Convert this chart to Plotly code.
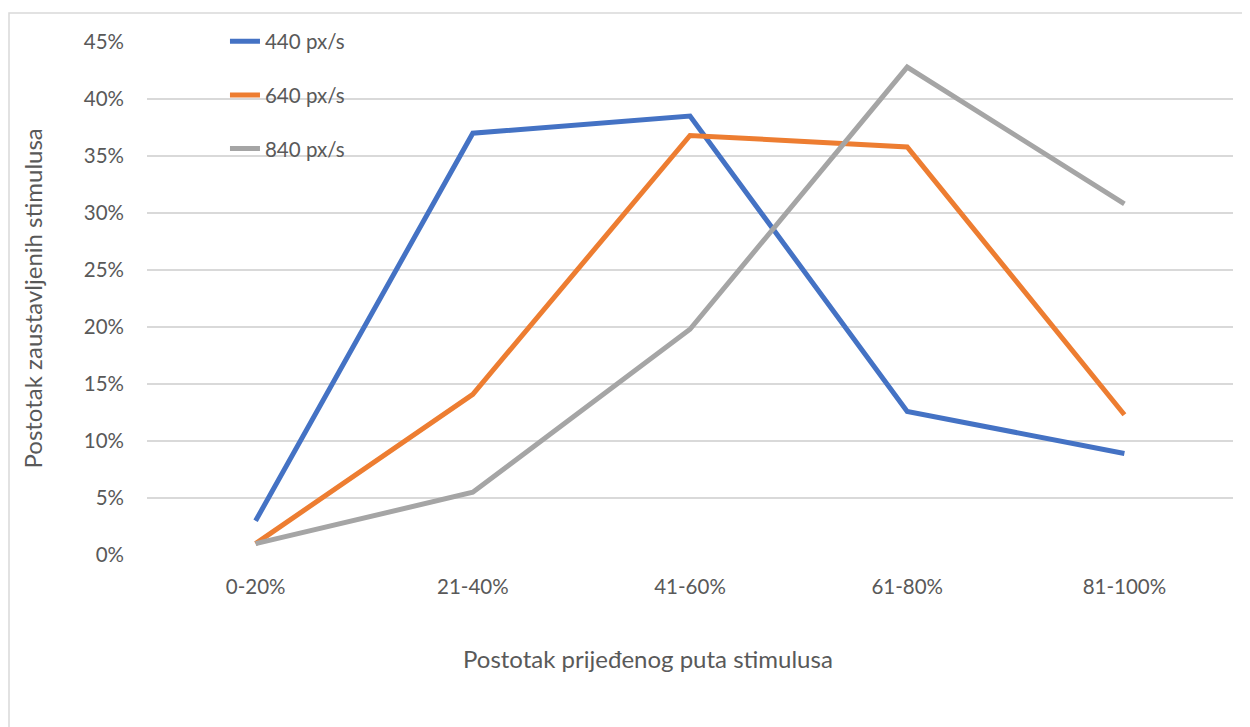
import plotly.graph_objects as go

categories = ["0-20%", "21-40%", "41-60%", "61-80%", "81-100%"]
speed_440 = [0.030, 0.370, 0.385, 0.126, 0.089]
speed_640 = [0.010, 0.141, 0.368, 0.358, 0.123]
speed_840 = [0.010, 0.055, 0.198, 0.428, 0.308]
series_names = ["440 px/s", "640 px/s", "840 px/s"]
y_ticks = [0, 0.05, 0.10, 0.15, 0.20, 0.25, 0.30, 0.35, 0.40, 0.45]

FONT = "Lato"
TXT = "#595959"
colors = ["#4472c4", "#ed7d31", "#a5a5a5"]

fig = go.Figure()
for i, (name, vals) in enumerate(zip(series_names, [speed_440, speed_640, speed_840])):
    fig.add_trace(go.Scatter(
        x=categories, y=vals, mode="lines", name=name,
        legendgroup=name,
        line=dict(color=colors[i], width=5, shape="linear"),
        hovertemplate="%{x}<br>%{y:.1%}<extra>%{fullData.name}</extra>",
    ))

fig.update_layout(
    width=1250, height=727,
    paper_bgcolor="white", plot_bgcolor="white",
    margin=dict(l=139, r=25, t=34, b=180),
    font=dict(family=FONT, size=20.5, color=TXT),
    showlegend=True,
    legend=dict(
        x=0.0718, y=1.04, xanchor="left", yanchor="top",
        bgcolor="rgba(0,0,0,0)", font=dict(size=20.5, color=TXT),
        tracegroupgap=24, itemwidth=30,
    ),
    xaxis=dict(
        type="category", range=[-0.5, 4.5],
        showgrid=False, showline=False, zeroline=False,
        ticks="", ticklabelstandoff=17,
        tickfont=dict(size=20.5, color=TXT),
    ),
    yaxis=dict(
        range=[0, 0.45], tickvals=y_ticks, tickformat=".0%",
        showgrid=True, gridcolor="#d9d9d9", gridwidth=1.5,
        zeroline=False, showline=False, ticks="", ticklabelstandoff=22,
        tickfont=dict(size=20.5, color=TXT),
    ),
    annotations=[
        dict(text="Postotak prijeđenog puta stimulusa", xref="paper", yref="paper",
             x=0.461, y=-0.202, showarrow=False, font=dict(size=24, color=TXT),
             xanchor="center", yanchor="middle"),
        dict(text="Postotak zaustavljenih stimulusa", xref="paper", yref="paper",
             x=-0.105, y=0.5, showarrow=False, textangle=-90, font=dict(size=24, color=TXT),
             xanchor="center", yanchor="middle"),
    ],
    shapes=[
        dict(type="rect", xref="paper", yref="paper",
             x0=(1 - 139) / 1086, x1=1.1, y0=-0.5, y1=(547 - 5) / 513,
             line=dict(color="#d9d9d9", width=1.5), fillcolor="rgba(0,0,0,0)", layer="below"),
    ],
)

fig.write_html("out.html")
